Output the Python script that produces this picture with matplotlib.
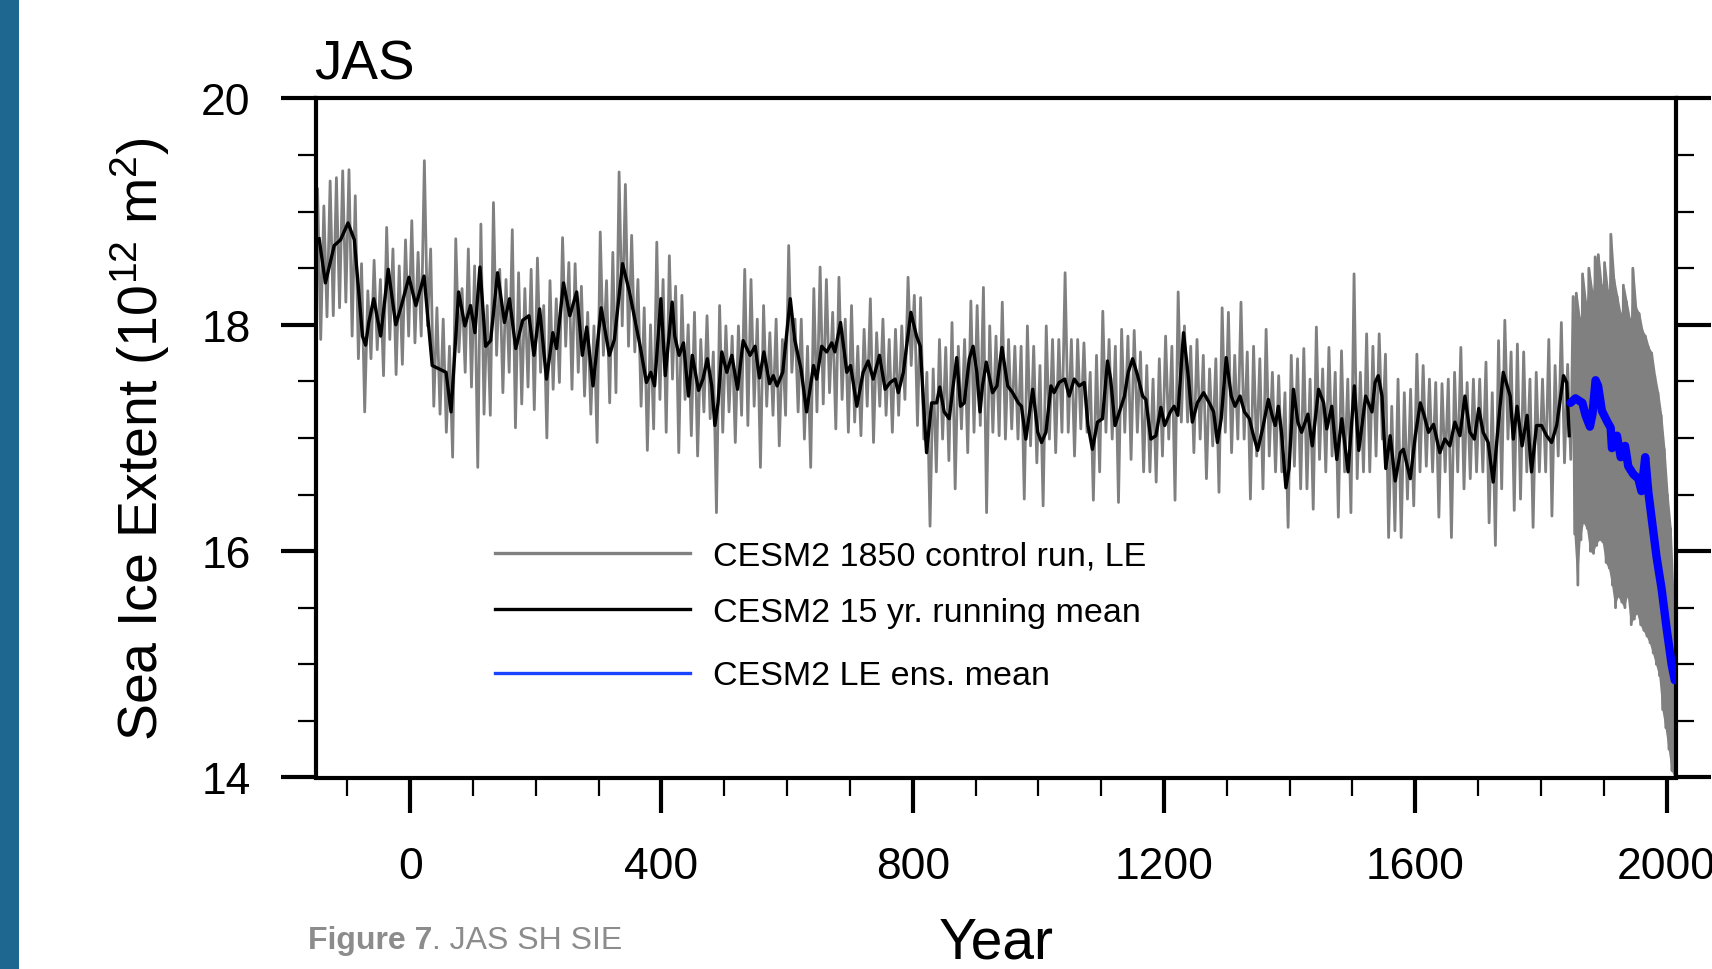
import matplotlib
matplotlib.use('Agg')
import matplotlib.pyplot as plt
import numpy as np
from matplotlib.patches import Rectangle
from matplotlib.lines import Line2D
from matplotlib.ticker import MultipleLocator

plt.rcParams['font.family'] = ['Liberation Sans', 'DejaVu Sans']
plt.rcParams['mathtext.fontset'] = 'custom'
plt.rcParams['mathtext.rm'] = 'Liberation Sans'
plt.rcParams['mathtext.it'] = 'Liberation Sans:italic'
plt.rcParams['mathtext.bf'] = 'Liberation Sans:bold'

# ---------------- data ----------------
title = "JAS"
ylabel = r"Sea Ice Extent (10$^{12}$ m$^{2}$)"
xlabel = "Year"
legend_labels = ["CESM2 1850 control run, LE", "CESM2 15 yr. running mean", "CESM2 LE ens. mean"]
caption_bold = "Figure 7"
caption_rest = ". JAS SH SIE"

# control run: decade bins starting at -150 ... 1840, upper and lower excursions
ctrl_bin_start = list(range(-150, 1850, 10))
ctrl_hi = [
    19.20, 19.05, 19.27, 19.30, 19.36, 19.37, 19.14, 18.54, 18.30, 18.57,
    18.40, 18.86, 18.67, 18.52, 18.75, 18.92, 18.64, 19.45, 18.67, 18.15,
    18.05, 17.81, 18.76, 18.32, 18.67, 18.52, 18.89, 18.17, 19.08, 18.49,
    18.40, 18.84, 18.46, 18.32, 18.49, 18.59, 18.17, 18.39, 18.23, 18.77,
    18.55, 18.54, 18.34, 18.11, 17.99, 18.82, 18.39, 18.64, 19.35, 19.24,
    18.79, 18.40, 18.15, 18.00, 18.73, 18.40, 18.61, 18.34, 18.26, 18.00,
    18.11, 17.87, 18.08, 17.76, 18.17, 17.99, 17.90, 17.99, 18.49, 18.40,
    18.05, 18.17, 17.93, 18.05, 17.87, 18.70, 18.05, 18.05, 17.81, 18.32,
    18.51, 18.40, 18.11, 18.42, 18.05, 18.17, 17.81, 17.96, 18.23, 17.93,
    18.05, 17.87, 17.96, 17.99, 18.42, 18.26, 18.24, 17.58, 17.61, 17.87,
    17.80, 18.02, 17.81, 17.87, 18.21, 18.17, 18.33, 17.99, 17.90, 18.20,
    17.87, 17.81, 17.81, 17.99, 17.81, 17.64, 17.99, 17.87, 17.87, 18.46,
    17.87, 17.87, 17.84, 17.58, 17.73, 18.12, 17.87, 17.81, 17.96, 17.90,
    17.95, 17.76, 17.64, 17.52, 17.70, 17.90, 17.81, 18.29, 17.99, 17.81,
    17.87, 17.73, 17.61, 17.70, 18.15, 18.11, 17.73, 18.20, 17.76, 17.81,
    17.70, 17.96, 17.58, 17.55, 17.40, 17.73, 17.70, 17.79, 17.52, 17.98,
    17.61, 17.80, 17.58, 17.77, 17.52, 18.45, 17.58, 17.92, 17.81, 17.92,
    17.74, 17.28, 17.52, 17.40, 17.43, 17.74, 17.64, 17.52, 17.49, 17.48,
    17.52, 17.58, 17.80, 17.49, 17.52, 17.52, 17.67, 17.40, 17.86, 18.04,
    17.76, 17.83, 17.76, 17.52, 17.58, 17.52, 17.87, 17.64, 18.02, 17.65,
]
ctrl_lo = [
    17.87, 18.07, 18.08, 18.15, 18.20, 17.90, 17.70, 17.23, 17.70, 17.78,
    17.55, 17.87, 17.56, 17.65, 17.90, 17.84, 17.90, 17.99, 17.28, 17.21,
    17.05, 16.83, 17.76, 17.58, 17.45, 16.74, 17.21, 17.20, 17.73, 17.40,
    17.58, 17.09, 17.30, 17.45, 17.25, 17.58, 17.00, 17.43, 17.49, 17.81,
    17.43, 17.58, 17.37, 17.21, 16.96, 17.73, 17.31, 17.40, 17.99, 17.81,
    17.76, 17.28, 16.89, 17.08, 17.34, 17.05, 17.52, 16.87, 17.34, 17.02,
    16.84, 17.23, 17.17, 16.34, 17.05, 17.23, 16.96, 17.20, 17.11, 17.28,
    16.74, 17.28, 17.20, 16.93, 17.20, 17.58, 17.23, 16.99, 16.74, 17.23,
    17.30, 17.40, 17.08, 17.34, 17.05, 17.14, 17.02, 17.28, 16.96, 17.28,
    17.20, 17.05, 17.20, 17.34, 17.64, 17.11, 16.99, 16.22, 16.70, 16.99,
    16.80, 16.55, 17.08, 16.87, 17.05, 17.11, 16.34, 17.05, 17.02, 16.99,
    17.08, 16.99, 16.46, 16.93, 16.78, 16.40, 16.99, 16.87, 17.05, 17.05,
    16.84, 17.08, 17.05, 16.45, 16.70, 17.05, 16.99, 16.43, 17.05, 16.81,
    17.05, 16.70, 16.70, 16.61, 16.84, 16.99, 16.45, 17.14, 17.14, 16.87,
    16.99, 16.64, 16.93, 16.52, 17.05, 16.87, 16.99, 16.99, 16.46, 16.84,
    16.55, 16.84, 16.70, 16.70, 16.21, 16.75, 16.55, 16.55, 16.37, 16.81,
    16.70, 16.84, 16.30, 16.70, 16.34, 16.64, 16.70, 16.70, 16.84, 16.99,
    16.12, 16.18, 16.12, 16.46, 16.40, 16.70, 16.75, 16.70, 16.30, 16.70,
    16.12, 16.70, 16.55, 16.64, 16.70, 16.70, 16.25, 16.05, 16.55, 16.99,
    16.36, 16.46, 16.70, 16.21, 16.70, 16.70, 16.31, 16.84, 16.78, 16.81,
]

# large ensemble spread: 5-year bins 1850 ... 2010
le_bin_start = list(range(1850, 2015, 5))
le_hi = [18.25, 18.28, 18.06, 18.45, 18.20, 18.50, 18.30, 18.60, 18.62, 18.35,
         18.55, 18.30, 18.80, 18.40, 18.25, 18.10, 18.35, 18.20, 18.05, 18.50,
         18.15, 18.10, 17.95, 17.90, 17.80, 17.75, 17.55, 17.40, 17.20, 16.90,
         16.50, 16.20, 15.50]
le_lo = [16.15, 15.70, 16.10, 16.25, 16.20, 16.00, 15.98, 16.05, 16.10, 16.08,
         15.90, 15.85, 15.70, 15.50, 15.60, 15.55, 15.50, 15.60, 15.35, 15.40,
         15.45, 15.35, 15.30, 15.25, 15.19, 15.10, 15.00, 14.90, 14.60, 14.44,
         14.25, 14.06, 14.00]

# 15-yr running mean of the control run
rm_years = [
    -145, -135, -121, -111, -99, -89, -76, -71, -66, -58, -47, -35, -23, -15, -2,
    9, 22, 35, 46, 57, 65, 77, 87, 96, 103, 111, 120, 128, 139, 150, 158, 168,
    179, 189, 197, 206, 217, 227, 233, 244, 254, 265, 274, 281, 291, 304, 317,
    325, 338, 349, 366, 376, 383, 389, 399, 406, 417, 421, 428, 435, 443, 449,
    459, 466, 473, 480, 485, 490, 496, 504, 512, 521, 530, 541, 549, 556, 563,
    572, 578, 584, 593, 605, 612, 622, 631, 642, 647, 655, 663, 671, 676, 685,
    695, 701, 711, 721, 729, 737, 747, 756, 764, 772, 777, 785, 797, 806, 812,
    817, 822, 830, 838, 843, 850, 858, 863, 870, 876, 882, 890, 896, 902, 907,
    911, 917, 927, 934, 942, 951, 959, 968, 973, 980, 991, 999, 1005, 1012,
    1020, 1025, 1033, 1042, 1049, 1057, 1065, 1073, 1079, 1086, 1094, 1102,
    1110, 1115, 1122, 1129, 1137, 1143, 1150, 1158, 1166, 1171, 1179, 1187,
    1195, 1201, 1210, 1216, 1222, 1231, 1239, 1245, 1253, 1263, 1272, 1279,
    1285, 1291, 1299, 1307, 1313, 1321, 1328, 1336, 1341, 1349, 1358, 1366,
    1372, 1377, 1382, 1387, 1394, 1399, 1406, 1413, 1419, 1429, 1436, 1446,
    1454, 1459, 1467, 1475, 1483, 1493, 1503, 1510, 1521, 1531, 1536, 1541,
    1547, 1553, 1560, 1568, 1576, 1581, 1586, 1592, 1600, 1608, 1614, 1621,
    1629, 1639, 1647, 1655, 1663, 1671, 1679, 1687, 1694, 1701, 1708, 1716,
    1724, 1732, 1740, 1751, 1756, 1762, 1770, 1778, 1785, 1793, 1801, 1809,
    1817, 1825, 1836, 1841, 1845,
]
rm_vals = [
    18.76, 18.37, 18.70, 18.75, 18.90, 18.75, 17.90, 17.82, 18.02, 18.23, 17.90,
    18.49, 18.00, 18.15, 18.42, 18.17, 18.43, 17.64, 17.61, 17.58, 17.23, 18.29,
    17.99, 18.17, 17.93, 18.51, 17.81, 17.86, 18.46, 18.02, 18.23, 17.79, 18.04,
    18.08, 17.73, 18.14, 17.52, 17.93, 17.79, 18.37, 18.08, 18.29, 17.73, 17.98,
    17.46, 18.15, 17.73, 17.87, 18.54, 18.29, 17.81, 17.49, 17.58, 17.46, 18.23,
    17.55, 18.20, 17.90, 17.73, 17.84, 17.37, 17.73, 17.42, 17.52, 17.70, 17.46,
    17.11, 17.31, 17.76, 17.58, 17.73, 17.43, 17.86, 17.73, 17.81, 17.53, 17.76,
    17.48, 17.55, 17.46, 17.58, 18.23, 17.87, 17.61, 17.23, 17.64, 17.52, 17.81,
    17.76, 17.84, 17.76, 18.02, 17.58, 17.64, 17.28, 17.58, 17.68, 17.52, 17.73,
    17.43, 17.49, 17.52, 17.40, 17.58, 18.11, 17.90, 17.81, 17.31, 16.87, 17.31,
    17.31, 17.45, 17.23, 17.17, 17.40, 17.71, 17.28, 17.31, 17.70, 17.81, 17.58,
    17.23, 17.46, 17.67, 17.40, 17.46, 17.80, 17.46, 17.40, 17.31, 17.28, 16.99,
    17.43, 17.05, 16.96, 17.05, 17.46, 17.40, 17.49, 17.52, 17.37, 17.52, 17.46,
    17.49, 17.11, 16.90, 17.14, 17.17, 17.68, 17.52, 17.11, 17.23, 17.37, 17.58,
    17.70, 17.55, 17.37, 17.34, 16.99, 17.02, 17.27, 17.11, 17.23, 17.28, 17.20,
    17.93, 17.52, 17.14, 17.31, 17.40, 17.31, 17.23, 16.96, 17.17, 17.71, 17.37,
    17.28, 17.37, 17.23, 17.17, 17.05, 16.89, 17.11, 17.34, 17.20, 17.11, 17.28,
    17.05, 16.56, 16.73, 17.43, 17.14, 17.05, 17.21, 16.93, 17.43, 17.31, 17.08,
    17.28, 16.81, 17.17, 16.70, 17.46, 16.89, 17.37, 17.23, 17.49, 17.55, 17.37,
    16.73, 17.02, 16.62, 16.87, 16.90, 16.78, 16.64, 17.02, 17.31, 17.20, 17.05,
    17.12, 16.87, 16.99, 16.93, 17.14, 17.02, 17.37, 17.05, 16.99, 17.26, 17.05,
    16.96, 16.61, 17.11, 17.58, 17.37, 16.99, 17.28, 16.93, 17.20, 16.70, 17.11,
    17.11, 17.02, 16.96, 17.11, 17.55, 17.49, 17.02,
]

# LE ensemble mean
le_mean_years = [1847, 1855, 1866, 1871, 1878, 1882, 1887, 1891, 1897, 1905, 1911,
                 1913, 1921, 1927, 1934, 1939, 1947, 1955, 1960, 1966, 1971, 1976,
                 1984, 1992, 2000, 2008, 2013]
le_mean_vals = [17.31, 17.35, 17.31, 17.20, 17.10, 17.21, 17.51, 17.46, 17.24, 17.15,
                17.09, 16.91, 17.02, 16.83, 16.93, 16.75, 16.68, 16.64, 16.53, 16.83,
                16.52, 16.30, 15.95, 15.67, 15.32, 15.00, 14.86]

x_major = [0, 400, 800, 1200, 1600, 2000]
y_major = [14, 16, 18, 20]

# ---------------- figure ----------------
W, H = 1712, 970
fig = plt.figure(figsize=(W / 100, H / 100), dpi=100)
fig.add_artist(Rectangle((0, 0), 19 / W, 1, transform=fig.transFigure,
                         facecolor='#1e6791', edgecolor='none'))

ax = fig.add_axes([316 / W, 1 - 778.5 / H, (1676 - 316) / W, (778.5 - 99.4) / H])

GREY = '#808080'
# grey line: control run (upper/lower excursion of each decade) + LE spread
cs = np.array(ctrl_bin_start, dtype=float)
gx = np.empty(2 * len(cs)); gy = np.empty(2 * len(cs))
gx[0::2] = cs + 2.5; gy[0::2] = ctrl_hi
gx[1::2] = cs + 7.5; gy[1::2] = ctrl_lo
ls = np.array(le_bin_start, dtype=float)
lx = np.empty(2 * len(ls)); ly = np.empty(2 * len(ls))
lx[0::2] = ls + 1.25; ly[0::2] = le_hi
lx[1::2] = ls + 3.75; ly[1::2] = le_lo
ax.plot(np.concatenate([gx, lx]), np.concatenate([gy, ly]), color=GREY, lw=2.0,
        zorder=2)
# the many LE members make a solid grey band
ax.fill_between(ls + 2.5, le_lo, le_hi, color=GREY, lw=0, zorder=2)
ax.plot(rm_years, rm_vals, color='black', lw=2.4, zorder=3, solid_joinstyle='round')
ax.plot(le_mean_years, le_mean_vals, color='#0000ff', lw=6, zorder=4,
        solid_joinstyle='round', solid_capstyle='round')

ax.set_xlim(-150, 2015)
ax.set_ylim(14, 20)
ax.set_xticks(x_major)
ax.set_yticks(y_major)
ax.xaxis.set_minor_locator(MultipleLocator(100))
ax.yaxis.set_minor_locator(MultipleLocator(0.5))
ax.tick_params(axis='both', which='major', direction='out', length=25, width=3,
               labelsize=32)
ax.tick_params(axis='both', which='minor', direction='out', length=13, width=1.6)
ax.tick_params(axis='y', which='both', left=True, right=True, labelright=False, pad=22)
ax.tick_params(axis='x', which='both', top=False, bottom=True, pad=24)
for s in ax.spines.values():
    s.set_linewidth(3)

fig.text(314 / W, 1 - 80 / H, title, fontsize=39.5, ha='left', va='baseline')
fig.text(140 / W, 1 - 439 / H, ylabel, fontsize=40, rotation=90, ha='center', va='center')
fig.text(996 / W, 1 - 959 / H, xlabel, fontsize=41, ha='center', va='baseline')

# legend (drawn manually)
leg_colors = [GREY, 'black', '#1a44ff']
leg_y = [553.5, 610.3, 673.6]
for lab, col, yy in zip(legend_labels, leg_colors, leg_y):
    fig.add_artist(Line2D([494.6 / W, 690 / W], [1 - yy / H, 1 - yy / H],
                          transform=fig.transFigure, color=col, lw=2.4))
    fig.text(713 / W, 1 - (yy + 11.5) / H, lab, fontsize=24.5, ha='left', va='baseline')

# caption
cap_col = '#8c8c8c'
t1 = fig.text(308 / W, 1 - 949 / H, caption_bold, fontsize=23, fontweight='bold',
              color=cap_col, ha='left', va='baseline')
r = fig.canvas.get_renderer()
bb = t1.get_window_extent(renderer=r)
fig.text(bb.x1 / W, 1 - 949 / H, caption_rest, fontsize=23, color=cap_col,
         ha='left', va='baseline')

fig.savefig('out.png', dpi=100)
